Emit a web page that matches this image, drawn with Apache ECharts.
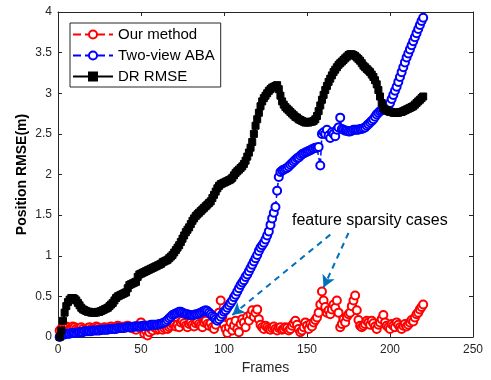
<!DOCTYPE html>
<html>
<head>
<meta charset="utf-8">
<script src="https://cdn.jsdelivr.net/npm/echarts@6/dist/echarts.min.js"></script>
<style>
  html, body { margin: 0; padding: 0; background: #fff; }
  #chart { width: 491px; height: 380px; }
</style>
</head>
<body>
<div id="chart"></div>
<script>
// values per frame (frame 1..220)
const ourMethod = [
  0.08,0.10,0.12,0.11,0.13,0.12,0.10,0.11,0.13,0.12,
  0.10,0.09,0.11,0.12,0.10,0.08,0.09,0.11,0.12,0.10,
  0.09,0.11,0.13,0.12,0.10,0.09,0.11,0.12,0.11,0.10,
  0.12,0.13,0.11,0.10,0.12,0.14,0.13,0.11,0.12,0.13,
  0.12,0.14,0.13,0.11,0.12,0.10,0.09,0.14,0.12,0.18,
  0.10,0.04,0.08,0.02,0.06,0.10,0.08,0.12,0.11,0.09,
  0.10,0.12,0.09,0.11,0.13,0.10,0.12,0.14,0.16,0.15,
  0.13,0.15,0.12,0.18,0.20,0.17,0.14,0.12,0.16,0.18,
  0.15,0.13,0.17,0.19,0.16,0.14,0.12,0.18,0.20,0.16,
  0.14,0.17,0.12,0.10,0.15,0.22,0.30,0.45,0.25,0.15,
  0.10,0.05,0.12,0.18,0.08,0.14,0.20,0.10,0.06,0.16,
  0.22,0.18,0.12,0.25,0.20,0.28,0.33,0.25,0.30,0.34,
  0.22,0.15,0.12,0.10,0.14,0.12,0.10,0.09,0.11,0.13,
  0.10,0.08,0.11,0.12,0.09,0.10,0.12,0.11,0.08,0.10,
  0.14,0.17,0.20,0.15,0.10,0.06,0.08,0.12,0.18,0.14,
  0.10,0.16,0.13,0.18,0.21,0.24,0.30,0.40,0.56,0.45,
  0.37,0.30,0.33,0.28,0.34,0.40,0.36,0.45,0.30,0.12,
  0.16,0.22,0.18,0.25,0.28,0.30,0.38,0.45,0.51,0.33,
  0.21,0.14,0.12,0.14,0.16,0.20,0.18,0.15,0.20,0.17,
  0.13,0.10,0.15,0.18,0.22,0.27,0.18,0.14,0.12,0.10,
  0.16,0.14,0.12,0.18,0.15,0.12,0.10,0.14,0.16,0.13,
  0.15,0.18,0.21,0.19,0.24,0.28,0.30,0.34,0.37,0.40
];

const twoViewABA = [
  0.00,0.02,0.03,0.03,0.04,0.04,0.04,0.05,0.05,0.05,
  0.05,0.06,0.06,0.06,0.06,0.07,0.07,0.07,0.07,0.07,
  0.08,0.08,0.08,0.08,0.08,0.09,0.09,0.09,0.09,0.09,
  0.10,0.10,0.10,0.10,0.10,0.11,0.11,0.11,0.11,0.11,
  0.12,0.12,0.12,0.12,0.12,0.13,0.13,0.13,0.13,0.13,
  0.14,0.14,0.14,0.14,0.14,0.15,0.15,0.15,0.15,0.15,
  0.16,0.16,0.17,0.18,0.19,0.21,0.23,0.25,0.27,0.28,
  0.29,0.30,0.31,0.31,0.30,0.29,0.28,0.28,0.27,0.27,
  0.27,0.27,0.28,0.28,0.29,0.30,0.31,0.32,0.33,0.32,
  0.30,0.28,0.26,0.24,0.22,0.20,0.22,0.25,0.28,0.31,
  0.33,0.36,0.39,0.42,0.45,0.49,0.52,0.56,0.60,0.64,
  0.67,0.70,0.74,0.77,0.81,0.85,0.89,0.93,0.97,1.01,
  1.06,1.10,1.13,1.16,1.20,1.25,1.30,1.38,1.46,1.53,
  1.60,1.80,1.97,2.03,2.05,2.06,2.07,2.08,2.10,2.12,
  2.14,2.16,2.18,2.20,2.21,2.23,2.25,2.26,2.27,2.28,
  2.29,2.30,2.31,2.32,2.33,2.33,2.34,2.11,2.50,2.52,
  2.50,2.55,2.48,2.45,2.52,2.50,2.47,2.55,2.58,2.70,
  2.56,2.55,2.54,2.54,2.53,2.53,2.54,2.55,2.55,2.55,
  2.55,2.56,2.56,2.57,2.58,2.60,2.62,2.64,2.66,2.68,
  2.71,2.74,2.76,2.78,2.79,2.80,2.80,2.81,2.84,2.88,
  2.93,2.98,3.03,3.08,3.14,3.20,3.26,3.32,3.38,3.44,
  3.49,3.54,3.59,3.64,3.69,3.74,3.79,3.84,3.89,3.93
];

const drRMSE = [
  0.00,0.08,0.20,0.30,0.38,0.43,0.46,0.48,0.48,0.47,
  0.45,0.42,0.39,0.36,0.34,0.33,0.32,0.31,0.31,0.30,
  0.30,0.30,0.30,0.31,0.31,0.32,0.33,0.34,0.35,0.36,
  0.38,0.40,0.42,0.45,0.48,0.50,0.51,0.52,0.53,0.54,
  0.55,0.60,0.64,0.65,0.66,0.67,0.68,0.74,0.77,0.78,
  0.79,0.80,0.81,0.82,0.83,0.84,0.85,0.86,0.87,0.88,
  0.89,0.90,0.92,0.93,0.94,0.95,0.97,0.99,1.01,1.04,
  1.07,1.10,1.13,1.17,1.21,1.25,1.29,1.32,1.35,1.39,
  1.43,1.46,1.49,1.51,1.53,1.55,1.57,1.59,1.61,1.63,
  1.65,1.67,1.71,1.75,1.79,1.83,1.86,1.88,1.89,1.90,
  1.91,1.92,1.93,1.94,1.96,1.99,2.02,2.04,2.06,2.08,
  2.10,2.13,2.17,2.22,2.27,2.33,2.40,2.50,2.60,2.68,
  2.76,2.84,2.90,2.94,2.97,3.00,3.03,3.05,3.07,3.08,
  3.09,3.10,3.05,2.97,2.90,2.86,2.83,2.81,2.79,2.77,
  2.75,2.73,2.71,2.70,2.68,2.67,2.66,2.65,2.64,2.64,
  2.64,2.65,2.65,2.66,2.68,2.72,2.78,2.85,2.92,2.98,
  3.04,3.09,3.14,3.18,3.22,3.26,3.29,3.32,3.35,3.37,
  3.39,3.41,3.43,3.45,3.47,3.48,3.48,3.47,3.46,3.44,
  3.42,3.40,3.37,3.34,3.32,3.30,3.28,3.26,3.23,3.20,
  3.16,3.11,3.04,2.96,2.88,2.82,2.80,2.79,2.78,2.77,
  2.77,2.76,2.76,2.76,2.76,2.77,2.77,2.78,2.79,2.80,
  2.81,2.82,2.83,2.84,2.86,2.88,2.90,2.92,2.94,2.96
];

const xTicks = { min: 0, max: 250, interval: 50 };
const yTicks = { min: 0, max: 4, interval: 0.5 };

// annotation arrows, [frame, rmse] start -> end
const arrowLines = [
  [[164, 1.26], [105, 0.27]],
  [[175, 1.28], [160, 0.61]]
];
const annotationText = 'feature sparsity cases';

const FONT = '"Liberation Sans", Arial, Helvetica, sans-serif';
const AXIS_COLOR = '#262626';

const toPairs = (arr) => arr.map((v, i) => [i + 1, v]);

const chart = echarts.init(document.getElementById('chart'));

const baseX = {
  type: 'value',
  min: xTicks.min,
  max: xTicks.max,
  interval: xTicks.interval,
  axisLine: { show: true, onZero: false, lineStyle: { color: AXIS_COLOR, width: 1 } },
  axisTick: { show: true, inside: true, length: 4, lineStyle: { color: AXIS_COLOR } },
  splitLine: { show: false }
};
const baseY = {
  type: 'value',
  min: yTicks.min,
  max: yTicks.max,
  interval: yTicks.interval,
  axisLine: { show: true, onZero: false, lineStyle: { color: AXIS_COLOR, width: 1 } },
  axisTick: { show: true, inside: true, length: 4, lineStyle: { color: AXIS_COLOR } },
  splitLine: { show: false }
};

chart.setOption({
  animation: false,
  backgroundColor: '#fff',
  textStyle: { fontFamily: FONT },
  grid: { left: 58, right: 18, top: 12, bottom: 40 },
  legend: {
    left: 70,
    top: 23,
    orient: 'vertical',
    backgroundColor: '#fff',
    borderColor: AXIS_COLOR,
    borderWidth: 1,
    borderRadius: 0,
    padding: [4, 6, 3, 2],
    itemGap: 6,
    itemWidth: 40,
    itemHeight: 10,
    textStyle: { fontSize: 15, lineHeight: 15, color: '#000', fontFamily: FONT },
    data: ['Our method', 'Two-view ABA', 'DR RMSE']
  },
  xAxis: [
    Object.assign({}, baseX, {
      position: 'bottom',
      name: 'Frames',
      nameLocation: 'middle',
      nameGap: 24,
      nameMoveOverlap: false,
      nameTextStyle: { fontSize: 14, color: AXIS_COLOR, fontFamily: FONT },
      axisLabel: { fontSize: 12, color: AXIS_COLOR, margin: 7, fontFamily: FONT }
    }),
    Object.assign({}, baseX, { position: 'top', axisLabel: { show: false } })
  ],
  yAxis: [
    Object.assign({}, baseY, {
      position: 'left',
      name: 'Position RMSE(m)',
      nameLocation: 'middle',
      nameGap: 29,
      nameMoveOverlap: false,
      nameTextStyle: { fontSize: 14, fontWeight: 'bold', color: '#000', fontFamily: FONT },
      axisLabel: { fontSize: 12, color: AXIS_COLOR, margin: 6, fontFamily: FONT }
    }),
    Object.assign({}, baseY, { position: 'right', axisLabel: { show: false } })
  ],
  graphic: [{
    type: 'text',
    left: 292,
    top: 213,
    style: { text: annotationText, fill: '#000', font: '16px ' + FONT }
  }],
  series: [
    {
      name: 'Our method',
      type: 'line',
      data: toPairs(ourMethod),
      symbol: 'emptyCircle',
      symbolSize: 8,
      showAllSymbol: true,
      color: '#ff0000',
      itemStyle: { color: '#ff0000', borderColor: '#ff0000', borderWidth: 2 },
      lineStyle: { color: '#ff0000', width: 1.5, type: 'dashed' }
    },
    {
      name: 'Two-view ABA',
      type: 'line',
      data: toPairs(twoViewABA),
      symbol: 'emptyCircle',
      symbolSize: 8,
      showAllSymbol: true,
      color: '#0000ff',
      itemStyle: { color: '#0000ff', borderColor: '#0000ff', borderWidth: 2 },
      lineStyle: { color: '#0000ff', width: 1.5, type: 'dashed' }
    },
    {
      name: 'DR RMSE',
      type: 'line',
      data: toPairs(drRMSE),
      symbol: 'rect',
      symbolSize: 7,
      showAllSymbol: true,
      color: '#000',
      itemStyle: { color: '#000', borderColor: '#000', borderWidth: 1 },
      lineStyle: { color: '#000', width: 2.5 },
      markLine: {
        silent: true,
        symbol: ['none', 'arrow'],
        symbolSize: [10, 12],
        label: { show: false },
        lineStyle: { color: '#0072BD', width: 2, type: [6, 5] },
        data: arrowLines.map(([a, b]) => [{ coord: a }, { coord: b }])
      }
    }
  ]
});
</script>
</body>
</html>
